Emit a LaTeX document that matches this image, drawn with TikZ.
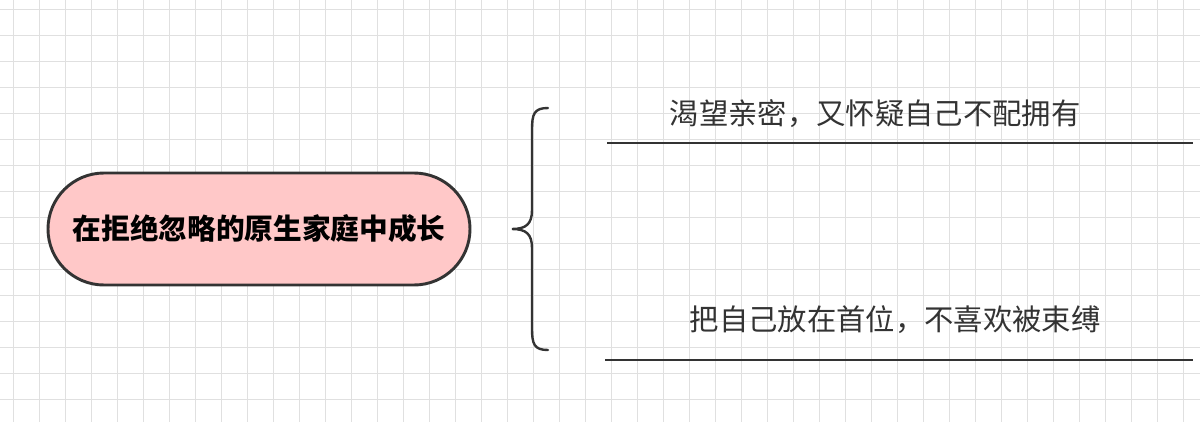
\documentclass[tikz,border=0pt]{standalone}
\usepackage{fontspec}
\newfontfamily\cjk{Noto Sans CJK SC}
\definecolor{gridc}{HTML}{E0E0E0}
\definecolor{pinkc}{HTML}{FFC8C8}
\definecolor{linec}{HTML}{333333}
\begin{document}
\begin{tikzpicture}[x=0.75pt,y=-0.75pt,
  rootbox/.style={draw=linec,line width=2.2pt,fill=pinkc,rounded corners=42pt,minimum width=422*0.75pt,minimum height=112*0.75pt,font=\cjk\bfseries\fontsize{21.5}{24}\selectfont},
  leaf/.style={font=\cjk\fontsize{22}{24}\selectfont,text=linec},
  uline/.style={draw=linec,line width=1.8pt}]
\useasboundingbox (0,0) rectangle (1200,422);
\fill[white] (0,0) rectangle (1200,422);
\foreach \x in {13,39,...,1200} \draw[gridc,line width=0.6pt] (\x,0) -- (\x,422);
\foreach \y in {9,35,...,422} \draw[gridc,line width=0.6pt] (0,\y) -- (1200,\y);
\node[rootbox] (root) at (259,229) {在拒绝忽略的原生家庭中成长};
\draw[linec,line width=1.8pt,line cap=round]
  (548,108) .. controls (534,108) and (532,114) .. (532,130)
  -- (532,210) .. controls (532,224) and (526,229) .. (512,229)
  .. controls (526,229) and (532,234) .. (532,248)
  -- (532,328) .. controls (532,344) and (534,350) .. (548,350);
\node[leaf] (t1) at (875,114) {渴望亲密，又怀疑自己不配拥有};
\node[leaf] (t2) at (895,320) {把自己放在首位，不喜欢被束缚};
\coordinate (l1a) at (607,143); \coordinate (l1b) at (1193,143);
\coordinate (l2a) at (605,360); \coordinate (l2b) at (1193,360);
\draw[uline] (l1a) -- (l1b);
\draw[uline] (l2a) -- (l2b);
\end{tikzpicture}
\end{document}
